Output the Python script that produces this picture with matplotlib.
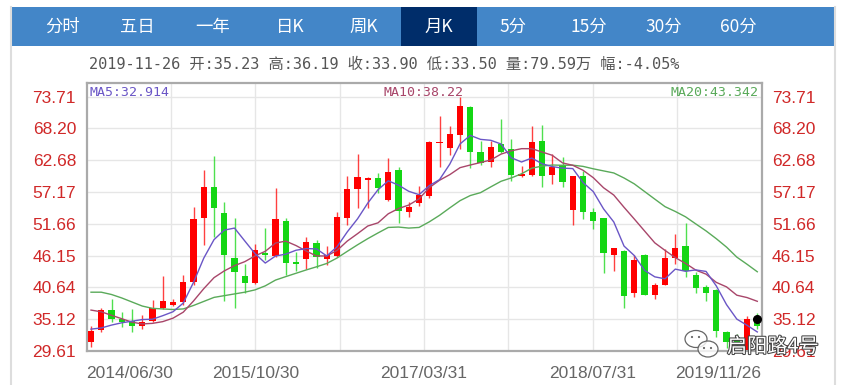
import matplotlib
matplotlib.use('Agg')
import matplotlib.pyplot as plt
import numpy as np
from matplotlib.patches import Rectangle, Ellipse
from matplotlib.lines import Line2D
import matplotlib.patheffects as pe

# ---------------- data ----------------
opens = [31.23, 33.32, 36.80, 35.24, 34.77, 33.90, 34.77, 37.09, 37.61, 38.08,
         41.56, 52.69, 58.09, 53.57, 45.74, 42.60, 41.38, 46.61, 46.03, 52.17,
         44.98, 45.50, 48.35, 45.62, 46.08, 52.69, 57.63, 59.31, 59.66, 55.77,
         60.99, 53.74, 55.19, 56.52, 65.63, 64.76, 67.08, 71.84, 64.18, 62.32,
         65.51, 64.64, 59.89, 60.12, 65.92, 60.06, 61.86, 54.03, 59.95, 53.74,
         52.58, 46.20, 46.95, 39.70, 46.32, 39.35, 40.98, 45.74, 47.82, 42.83,
         40.63, 40.11, 32.86, 31.70, 29.80, 35.23]
highs = [34.02, 37.03, 38.66, 36.34, 36.92, 35.93, 38.37, 42.60, 38.66, 42.83,
         54.61, 60.99, 63.48, 55.48, 52.69, 44.75, 48.23, 50.96, 57.92, 52.69,
         46.78, 49.39, 48.87, 47.82, 53.74, 60.00, 63.72, 59.83, 60.41, 63.02,
         61.57, 55.48, 58.26, 65.92, 70.27, 68.53, 73.71, 72.01, 66.04, 65.92,
         69.81, 66.39, 61.74, 68.53, 68.82, 63.72, 63.31, 59.95, 60.82, 54.32,
         52.70, 47.48, 47.10, 46.32, 46.49, 41.44, 47.36, 49.85, 51.83, 43.30,
         41.04, 40.40, 33.15, 32.60, 35.64, 36.19]
lows = [30.25, 32.86, 34.60, 33.73, 32.86, 33.44, 34.60, 36.92, 37.38, 37.61,
        40.98, 48.05, 49.39, 38.31, 37.09, 39.70, 41.27, 45.33, 45.91, 42.72,
        43.47, 43.88, 44.05, 44.46, 45.91, 51.42, 54.44, 54.44, 57.05, 55.65,
        51.83, 52.87, 54.78, 56.06, 61.57, 63.60, 64.59, 61.28, 61.86, 61.57,
        63.84, 59.14, 59.72, 60.00, 58.03, 58.55, 58.03, 51.42, 52.46, 50.67,
        43.18, 43.41, 37.03, 38.95, 39.24, 38.54, 40.98, 44.75, 42.43, 39.64,
        38.25, 32.01, 30.13, 30.30, 29.61, 33.50]
closes = [33.15, 36.80, 35.18, 34.71, 34.02, 34.60, 37.09, 38.25, 38.08, 41.56,
          52.52, 58.09, 54.32, 46.32, 43.30, 41.38, 47.07, 46.20, 52.40, 44.92,
          44.75, 48.52, 45.91, 46.32, 52.87, 57.63, 59.83, 59.54, 57.92, 60.58,
          53.86, 54.49, 56.64, 65.75, 65.80, 67.25, 72.01, 64.06, 62.27, 64.99,
          64.06, 60.12, 60.35, 65.75, 60.00, 61.57, 58.84, 59.95, 53.62, 52.17,
          46.61, 47.48, 39.07, 45.44, 39.35, 40.98, 45.74, 47.48, 43.53, 40.57,
          39.70, 33.15, 31.23, 31.06, 35.23, 33.90]
ma5 = [33.40, 33.60, 34.10, 34.50, 34.77, 35.06, 35.12, 35.73, 36.41, 37.92,
       41.50, 45.70, 48.91, 50.56, 50.91, 48.68, 46.48, 44.85, 46.07, 46.39,
       47.07, 47.36, 47.30, 46.08, 47.67, 50.25, 52.51, 55.24, 57.56, 59.10,
       58.35, 57.28, 56.70, 58.26, 59.31, 61.99, 65.49, 66.97, 66.28, 66.12,
       65.48, 63.10, 62.36, 63.05, 62.06, 61.56, 61.30, 61.22, 58.80, 57.23,
       54.24, 51.97, 47.79, 46.15, 43.59, 42.46, 42.12, 43.80, 43.42, 43.66,
       43.40, 40.89, 37.64, 35.14, 34.07, 32.91]
ma10 = [36.70, 36.40, 35.80, 35.20, 34.60, 34.30, 34.40, 34.70, 35.30, 36.34,
        38.28, 40.41, 42.32, 43.49, 44.41, 45.09, 46.09, 46.88, 48.32, 48.65,
        47.88, 46.92, 46.08, 46.08, 47.03, 48.66, 49.94, 51.27, 51.82, 53.39,
        54.30, 54.90, 55.97, 57.91, 59.20, 60.17, 61.38, 61.84, 62.27, 62.71,
        63.73, 64.30, 64.67, 64.67, 64.09, 63.52, 62.20, 61.79, 60.93, 59.64,
        57.90, 56.63, 54.51, 52.48, 50.41, 48.35, 47.04, 45.79, 44.79, 43.63,
        42.93, 41.50, 40.72, 39.28, 38.87, 38.22]
ma20 = [39.80, 39.80, 39.40, 38.80, 38.10, 37.40, 37.00, 36.90, 36.80, 36.90,
        37.50, 38.20, 38.90, 39.20, 39.50, 39.80, 40.20, 40.90, 41.90, 42.50,
        43.08, 43.66, 44.20, 44.78, 45.72, 46.88, 48.01, 49.08, 50.07, 51.02,
        51.09, 50.91, 51.02, 51.99, 53.12, 54.41, 55.66, 56.55, 57.05, 58.05,
        59.02, 59.60, 60.32, 61.29, 61.65, 61.84, 61.79, 61.81, 61.60, 61.18,
        60.82, 60.46, 59.59, 58.57, 57.25, 55.93, 54.62, 53.79, 52.86, 51.63,
        50.42, 49.07, 47.61, 45.88, 44.64, 43.34]
y_ticks = [29.61, 35.12, 40.64, 46.15, 51.66, 57.17, 62.68, 68.20, 73.71]
x_labels = ['2014/06/30', '2015/10/30', '2017/03/31', '2018/07/31', '2019/11/26']
tabs = ['分时', '五日', '一年', '日K', '周K', '月K', '5分', '15分', '30分', '60分']
active_tab = '月K'
info = '2019-11-26 开:35.23 高:36.19 收:33.90 低:33.50 量:79.59万 幅:-4.05%'
ma_labels = ['MA5:32.914', 'MA10:38.22', 'MA20:43.342']
watermark = '启阳路4号'

# ---------------- style ----------------
W, H = 849, 385
RED = '#ff0000'
GREEN = '#14d614'
C5, C10, C20 = '#6a56c6', '#a8466a', '#5aaa5a'
TICK_RED = '#d02828'
CJK = ['Noto Sans CJK SC', 'DejaVu Sans']
MONO = ['DejaVu Sans Mono', 'Noto Sans CJK SC']

fig = plt.figure(figsize=(W / 100, H / 100), dpi=100)
fig.patch.set_facecolor('white')

def fx(x):
    return x / W

def fy(y):
    return 1 - y / H

# container border
fig.add_artist(Line2D([fx(10.5), fx(10.5)], [fy(7), fy(385)], color='#dddddd', lw=1.5))
fig.add_artist(Line2D([fx(835), fx(835)], [fy(7), fy(385)], color='#dddddd', lw=1.5))
# header bar
fig.add_artist(Rectangle((fx(10.5), fy(45.5)), fx(824), 38.5 / H, transform=fig.transFigure,
                         facecolor='#4386c8', edgecolor='none'))
fig.add_artist(Rectangle((fx(401), fy(45.5)), fx(75.5), 38.5 / H, transform=fig.transFigure,
                         facecolor='#002d6a', edgecolor='none'))
tab_x = [63, 137.5, 213, 290, 364, 439, 513, 589, 664, 738]
for t, x in zip(tabs, tab_x):
    fig.text(fx(x), fy(27), t, color='white', fontsize=12.5, family=CJK,
             ha='center', va='center')

fig.text(fx(89), fy(64), info, color='#555555', fontsize=11, family=MONO,
         ha='left', va='center')

# ---------------- chart ----------------
left, right, top, bottom = 86.5, 761.5, 83, 351
ax = fig.add_axes([fx(left), fy(bottom), (right - left) / W, (bottom - top) / H])
n = len(closes)
xs = np.arange(n)
x0, x1 = -0.44, 65.41
ax.set_xlim(x0, x1)
ax.set_ylim(29.61, 76.05)

# grid
ax.set_yticks(y_ticks)
ax.set_yticklabels([f'{v:.2f}' for v in y_ticks])
ax.yaxis.grid(True, color='#e6e6e6', lw=1)
grid_x = [x0 + k * (x1 - x0) / 8 for k in range(1, 8)]
for gx in grid_x:
    ax.axvline(gx, color='#e6e6e6', lw=1, zorder=0)
ax.set_axisbelow(True)

ax.tick_params(axis='y', left=False, right=False, labelleft=True, labelright=True,
               labelsize=12.5, labelcolor=TICK_RED, pad=4)
for lab in ax.yaxis.get_ticklabels(which='both'):
    lab.set_family('Liberation Sans')
for tk in ax.yaxis.get_major_ticks():
    tk.label1.set_family('Liberation Sans')
    tk.label2.set_family('Liberation Sans')

label_pos = [x0 + k * (x1 - x0) / 8 for k in (0, 2, 4, 6, 8)]
ax.set_xticks(label_pos)
ax.set_xticklabels(x_labels)
ax.tick_params(axis='x', bottom=False, labelsize=12.5, labelcolor='#666666', pad=7)
xt = ax.get_xticklabels()
for lab in xt:
    lab.set_family('Liberation Sans')
xt[0].set_ha('left')
xt[-1].set_ha('right')

for s in ax.spines.values():
    s.set_color('#aaaaaa')
    s.set_linewidth(1.6)

# candles
o = np.array(opens); c = np.array(closes); h = np.array(highs); l = np.array(lows)
up = c >= o
cols = np.where(up, RED, GREEN)
ax.vlines(xs, l, h, colors=cols, lw=1.0, alpha=0.75, zorder=2)
body_lo = np.minimum(o, c)
body_h = np.maximum(np.abs(c - o), 0.28)
ax.bar(xs, body_h, bottom=body_lo, width=0.6, color=cols, edgecolor='none', zorder=3)

# moving averages
ax.plot(xs, ma20, color=C20, lw=1.0, zorder=4)
ax.plot(xs, ma10, color=C10, lw=1.0, zorder=4)
ax.plot(xs, ma5, color=C5, lw=1.0, zorder=4)
ax.plot([xs[-1]], [opens[-1]], 'o', color='black', ms=5.5, zorder=6)

# MA legend texts
ax.text(0.004, 0.965, ma_labels[0], transform=ax.transAxes, color=C5, fontsize=9.5,
        family=MONO, ha='left', va='center')
ax.text(0.5, 0.965, ma_labels[1], transform=ax.transAxes, color=C10, fontsize=9.5,
        family=MONO, ha='center', va='center')
ax.text(0.995, 0.965, ma_labels[2], transform=ax.transAxes, color=C20, fontsize=9.5,
        family=MONO, ha='right', va='center')

# watermark (WeChat-like icon + account name)
fig.add_artist(Ellipse((fx(696), fy(339)), 22 / W, 17 / H, transform=fig.transFigure,
                       facecolor=(1, 1, 1, 0.7), edgecolor='#666666', lw=0.9, zorder=9))
fig.add_artist(Ellipse((fx(708), fy(349)), 20 / W, 16 / H, transform=fig.transFigure,
                       facecolor=(1, 1, 1, 0.8), edgecolor='#666666', lw=0.9, zorder=9))
for ex, ey in [(692, 337), (699, 337), (704, 348), (711, 348)]:
    fig.add_artist(Ellipse((fx(ex), fy(ey)), 2.2 / W, 2.2 / H, transform=fig.transFigure,
                           facecolor='#666666', edgecolor='none', zorder=10))
fig.text(fx(727), fy(347), watermark, fontsize=14.5, family=CJK, color='white',
         ha='left', va='center', zorder=10,
         path_effects=[pe.withStroke(linewidth=1.5, foreground='#444444')])

fig.savefig('out.png', dpi=100, facecolor='white')
